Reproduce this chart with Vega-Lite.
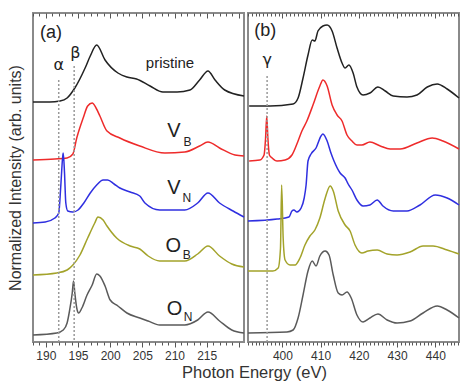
{
  "$schema": "https://vega.github.io/schema/vega-lite/v6.json",
  "padding": {"left": 6, "top": 11, "right": 5, "bottom": 3},
  "spacing": -4,
  "background": "white",
  "config": {
    "view": {"stroke": "#8a8a8a", "strokeWidth": 2},
    "font": "Liberation Sans",
    "axis": {"labelFont": "Liberation Sans", "titleFont": "Liberation Sans"}
  },
  "title": {"text": "Photon Energy (eV)", "orient": "bottom", "anchor": "middle", "fontSize": 16.5, "fontWeight": "normal", "font": "Liberation Sans", "color": "#333", "offset": 3, "dx": 20},
  "datasets": {
    "spectra": [
      {"panel":"a","series":"pristine","e":188.0,"i":240},{"panel":"a","series":"pristine","e":190.6,"i":240},{"panel":"a","series":"pristine","e":192.2,"i":241},{"panel":"a","series":"pristine","e":193.3,"i":244},{"panel":"a","series":"pristine","e":194.5,"i":254},{"panel":"a","series":"pristine","e":196.1,"i":274},{"panel":"a","series":"pristine","e":196.9,"i":286},{"panel":"a","series":"pristine","e":197.9,"i":297},{"panel":"a","series":"pristine","e":199.2,"i":282},{"panel":"a","series":"pristine","e":201.2,"i":269},{"panel":"a","series":"pristine","e":202.6,"i":265},{"panel":"a","series":"pristine","e":204.1,"i":263},{"panel":"a","series":"pristine","e":206.2,"i":256},{"panel":"a","series":"pristine","e":208.2,"i":250},{"panel":"a","series":"pristine","e":210.4,"i":250},{"panel":"a","series":"pristine","e":212.4,"i":252},{"panel":"a","series":"pristine","e":213.9,"i":262},{"panel":"a","series":"pristine","e":215.2,"i":271},{"panel":"a","series":"pristine","e":216.3,"i":262},{"panel":"a","series":"pristine","e":217.8,"i":252},{"panel":"a","series":"pristine","e":220.8,"i":246},
      {"panel":"a","series":"VB","e":188.0,"i":182},{"panel":"a","series":"VB","e":191.4,"i":183},{"panel":"a","series":"VB","e":193.3,"i":184},{"panel":"a","series":"VB","e":194.2,"i":188},{"panel":"a","series":"VB","e":194.8,"i":204},{"panel":"a","series":"VB","e":195.8,"i":224},{"panel":"a","series":"VB","e":196.5,"i":236},{"panel":"a","series":"VB","e":197.2,"i":239},{"panel":"a","series":"VB","e":197.8,"i":234},{"panel":"a","series":"VB","e":198.4,"i":226},{"panel":"a","series":"VB","e":199.5,"i":211},{"panel":"a","series":"VB","e":201.5,"i":204},{"panel":"a","series":"VB","e":204.6,"i":196},{"panel":"a","series":"VB","e":208.5,"i":189},{"panel":"a","series":"VB","e":211.6,"i":190},{"panel":"a","series":"VB","e":213.9,"i":196},{"panel":"a","series":"VB","e":215.2,"i":200},{"panel":"a","series":"VB","e":217.0,"i":194},{"panel":"a","series":"VB","e":219.4,"i":187},{"panel":"a","series":"VB","e":220.8,"i":186},
      {"panel":"a","series":"VN","e":188.0,"i":119},{"panel":"a","series":"VN","e":189.9,"i":120},{"panel":"a","series":"VN","e":191.4,"i":124},{"panel":"a","series":"VN","e":192.0,"i":129},{"panel":"a","series":"VN","e":192.3,"i":154},{"panel":"a","series":"VN","e":192.6,"i":184},{"panel":"a","series":"VN","e":192.7,"i":189},{"panel":"a","series":"VN","e":192.9,"i":169},{"panel":"a","series":"VN","e":193.1,"i":139},{"panel":"a","series":"VN","e":193.4,"i":131},{"panel":"a","series":"VN","e":194.2,"i":130},{"panel":"a","series":"VN","e":195.0,"i":132},{"panel":"a","series":"VN","e":195.9,"i":139},{"panel":"a","series":"VN","e":196.9,"i":149},{"panel":"a","series":"VN","e":197.9,"i":157},{"panel":"a","series":"VN","e":198.9,"i":162},{"panel":"a","series":"VN","e":199.6,"i":162},{"panel":"a","series":"VN","e":200.6,"i":158},{"panel":"a","series":"VN","e":201.5,"i":154},{"panel":"a","series":"VN","e":203.1,"i":150},{"panel":"a","series":"VN","e":204.6,"i":146},{"panel":"a","series":"VN","e":205.4,"i":139},{"panel":"a","series":"VN","e":207.7,"i":132},{"panel":"a","series":"VN","e":211.6,"i":132},{"panel":"a","series":"VN","e":213.6,"i":139},{"panel":"a","series":"VN","e":215.2,"i":149},{"panel":"a","series":"VN","e":217.0,"i":139},{"panel":"a","series":"VN","e":219.1,"i":131},{"panel":"a","series":"VN","e":220.8,"i":125},
      {"panel":"a","series":"OB","e":188.0,"i":67},{"panel":"a","series":"OB","e":191.7,"i":69},{"panel":"a","series":"OB","e":193.3,"i":72},{"panel":"a","series":"OB","e":194.2,"i":77},{"panel":"a","series":"OB","e":195.3,"i":87},{"panel":"a","series":"OB","e":196.5,"i":104},{"panel":"a","series":"OB","e":197.6,"i":119},{"panel":"a","series":"OB","e":198.1,"i":125},{"panel":"a","series":"OB","e":198.9,"i":122},{"panel":"a","series":"OB","e":199.5,"i":116},{"panel":"a","series":"OB","e":201.0,"i":104},{"panel":"a","series":"OB","e":203.1,"i":96},{"panel":"a","series":"OB","e":204.6,"i":93},{"panel":"a","series":"OB","e":205.9,"i":86},{"panel":"a","series":"OB","e":207.7,"i":81},{"panel":"a","series":"OB","e":211.6,"i":81},{"panel":"a","series":"OB","e":213.6,"i":88},{"panel":"a","series":"OB","e":215.2,"i":96},{"panel":"a","series":"OB","e":217.0,"i":86},{"panel":"a","series":"OB","e":218.9,"i":78},{"panel":"a","series":"OB","e":220.8,"i":75},
      {"panel":"a","series":"ON","e":188.0,"i":7},{"panel":"a","series":"ON","e":191.7,"i":9},{"panel":"a","series":"ON","e":192.7,"i":12},{"panel":"a","series":"ON","e":193.3,"i":19},{"panel":"a","series":"ON","e":193.7,"i":32},{"panel":"a","series":"ON","e":194.1,"i":49},{"panel":"a","series":"ON","e":194.3,"i":61},{"panel":"a","series":"ON","e":194.5,"i":49},{"panel":"a","series":"ON","e":194.8,"i":34},{"panel":"a","series":"ON","e":195.1,"i":29},{"panel":"a","series":"ON","e":195.6,"i":34},{"panel":"a","series":"ON","e":196.4,"i":47},{"panel":"a","series":"ON","e":197.2,"i":57},{"panel":"a","series":"ON","e":197.9,"i":68},{"panel":"a","series":"ON","e":198.4,"i":66},{"panel":"a","series":"ON","e":199.2,"i":56},{"panel":"a","series":"ON","e":200.0,"i":42},{"panel":"a","series":"ON","e":201.2,"i":36},{"panel":"a","series":"ON","e":202.6,"i":29},{"panel":"a","series":"ON","e":204.6,"i":24},{"panel":"a","series":"ON","e":205.9,"i":21},{"panel":"a","series":"ON","e":207.7,"i":17},{"panel":"a","series":"ON","e":211.6,"i":17},{"panel":"a","series":"ON","e":213.6,"i":22},{"panel":"a","series":"ON","e":215.2,"i":30},{"panel":"a","series":"ON","e":217.0,"i":21},{"panel":"a","series":"ON","e":218.9,"i":12},{"panel":"a","series":"ON","e":220.8,"i":9},
      {"panel":"b","series":"pristine","e":391.3,"i":236},{"panel":"b","series":"pristine","e":396.8,"i":236},{"panel":"b","series":"pristine","e":402.8,"i":238},{"panel":"b","series":"pristine","e":404.1,"i":244},{"panel":"b","series":"pristine","e":405.4,"i":264},{"panel":"b","series":"pristine","e":406.7,"i":287},{"panel":"b","series":"pristine","e":407.8,"i":302},{"panel":"b","series":"pristine","e":408.5,"i":301},{"panel":"b","series":"pristine","e":409.3,"i":311},{"panel":"b","series":"pristine","e":410.6,"i":316},{"panel":"b","series":"pristine","e":411.7,"i":317},{"panel":"b","series":"pristine","e":413.0,"i":311},{"panel":"b","series":"pristine","e":414.3,"i":294},{"panel":"b","series":"pristine","e":415.6,"i":279},{"panel":"b","series":"pristine","e":416.4,"i":274},{"panel":"b","series":"pristine","e":417.4,"i":277},{"panel":"b","series":"pristine","e":418.5,"i":269},{"panel":"b","series":"pristine","e":419.5,"i":255},{"panel":"b","series":"pristine","e":421.1,"i":247},{"panel":"b","series":"pristine","e":422.9,"i":249},{"panel":"b","series":"pristine","e":425.0,"i":255},{"panel":"b","series":"pristine","e":426.9,"i":251},{"panel":"b","series":"pristine","e":429.0,"i":246},{"panel":"b","series":"pristine","e":432.6,"i":245},{"panel":"b","series":"pristine","e":435.2,"i":247},{"panel":"b","series":"pristine","e":437.9,"i":255},{"panel":"b","series":"pristine","e":440.5,"i":258},{"panel":"b","series":"pristine","e":443.1,"i":253},{"panel":"b","series":"pristine","e":446.2,"i":244},
      {"panel":"b","series":"VB","e":391.3,"i":181},{"panel":"b","series":"VB","e":394.1,"i":182},{"panel":"b","series":"VB","e":395.2,"i":187},{"panel":"b","series":"VB","e":395.6,"i":204},{"panel":"b","series":"VB","e":395.9,"i":226},{"panel":"b","series":"VB","e":396.2,"i":204},{"panel":"b","series":"VB","e":396.6,"i":187},{"panel":"b","series":"VB","e":397.3,"i":184},{"panel":"b","series":"VB","e":398.6,"i":181},{"panel":"b","series":"VB","e":400.7,"i":182},{"panel":"b","series":"VB","e":402.5,"i":187},{"panel":"b","series":"VB","e":404.1,"i":201},{"panel":"b","series":"VB","e":405.1,"i":211},{"panel":"b","series":"VB","e":406.4,"i":221},{"panel":"b","series":"VB","e":408.0,"i":237},{"panel":"b","series":"VB","e":409.8,"i":256},{"panel":"b","series":"VB","e":410.6,"i":262},{"panel":"b","series":"VB","e":411.7,"i":256},{"panel":"b","series":"VB","e":413.0,"i":237},{"panel":"b","series":"VB","e":414.3,"i":227},{"panel":"b","series":"VB","e":415.6,"i":221},{"panel":"b","series":"VB","e":416.9,"i":207},{"panel":"b","series":"VB","e":418.2,"i":201},{"panel":"b","series":"VB","e":419.5,"i":197},{"panel":"b","series":"VB","e":420.8,"i":197},{"panel":"b","series":"VB","e":422.9,"i":200},{"panel":"b","series":"VB","e":425.6,"i":196},{"panel":"b","series":"VB","e":428.2,"i":193},{"panel":"b","series":"VB","e":430.8,"i":193},{"panel":"b","series":"VB","e":435.2,"i":199},{"panel":"b","series":"VB","e":439.2,"i":204},{"panel":"b","series":"VB","e":442.0,"i":201},{"panel":"b","series":"VB","e":446.2,"i":193},
      {"panel":"b","series":"VN","e":391.0,"i":121},{"panel":"b","series":"VN","e":398.6,"i":123},{"panel":"b","series":"VN","e":401.7,"i":125},{"panel":"b","series":"VN","e":402.5,"i":131},{"panel":"b","series":"VN","e":403.0,"i":132},{"panel":"b","series":"VN","e":403.8,"i":130},{"panel":"b","series":"VN","e":404.9,"i":134},{"panel":"b","series":"VN","e":405.7,"i":144},{"panel":"b","series":"VN","e":406.2,"i":157},{"panel":"b","series":"VN","e":406.7,"i":181},{"panel":"b","series":"VN","e":407.5,"i":188},{"panel":"b","series":"VN","e":408.8,"i":194},{"panel":"b","series":"VN","e":410.1,"i":206},{"panel":"b","series":"VN","e":410.6,"i":208},{"panel":"b","series":"VN","e":411.7,"i":201},{"panel":"b","series":"VN","e":412.7,"i":189},{"panel":"b","series":"VN","e":413.5,"i":181},{"panel":"b","series":"VN","e":415.1,"i":169},{"panel":"b","series":"VN","e":416.4,"i":164},{"panel":"b","series":"VN","e":417.2,"i":158},{"panel":"b","series":"VN","e":418.2,"i":152},{"panel":"b","series":"VN","e":419.5,"i":142},{"panel":"b","series":"VN","e":421.1,"i":136},{"panel":"b","series":"VN","e":422.9,"i":137},{"panel":"b","series":"VN","e":424.8,"i":142},{"panel":"b","series":"VN","e":426.3,"i":136},{"panel":"b","series":"VN","e":429.0,"i":131},{"panel":"b","series":"VN","e":432.6,"i":131},{"panel":"b","series":"VN","e":436.0,"i":137},{"panel":"b","series":"VN","e":440.0,"i":147},{"panel":"b","series":"VN","e":443.1,"i":144},{"panel":"b","series":"VN","e":446.2,"i":137},
      {"panel":"b","series":"OB","e":391.0,"i":71},{"panel":"b","series":"OB","e":397.5,"i":71},{"panel":"b","series":"OB","e":398.9,"i":74},{"panel":"b","series":"OB","e":399.5,"i":94},{"panel":"b","series":"OB","e":399.8,"i":157},{"panel":"b","series":"OB","e":400.2,"i":104},{"panel":"b","series":"OB","e":400.7,"i":82},{"panel":"b","series":"OB","e":402.0,"i":77},{"panel":"b","series":"OB","e":403.3,"i":77},{"panel":"b","series":"OB","e":404.6,"i":84},{"panel":"b","series":"OB","e":405.9,"i":97},{"panel":"b","series":"OB","e":407.2,"i":106},{"panel":"b","series":"OB","e":408.5,"i":112},{"panel":"b","series":"OB","e":409.8,"i":124},{"panel":"b","series":"OB","e":411.2,"i":144},{"panel":"b","series":"OB","e":412.5,"i":156},{"panel":"b","series":"OB","e":413.3,"i":151},{"panel":"b","series":"OB","e":414.6,"i":131},{"panel":"b","series":"OB","e":416.4,"i":117},{"panel":"b","series":"OB","e":417.7,"i":111},{"panel":"b","series":"OB","e":419.0,"i":97},{"panel":"b","series":"OB","e":420.8,"i":89},{"panel":"b","series":"OB","e":422.4,"i":91},{"panel":"b","series":"OB","e":424.8,"i":92},{"panel":"b","series":"OB","e":427.4,"i":88},{"panel":"b","series":"OB","e":430.0,"i":87},{"panel":"b","series":"OB","e":433.4,"i":90},{"panel":"b","series":"OB","e":436.8,"i":96},{"panel":"b","series":"OB","e":439.4,"i":96},{"panel":"b","series":"OB","e":443.1,"i":92},{"panel":"b","series":"OB","e":446.2,"i":88},
      {"panel":"b","series":"ON","e":391.0,"i":9},{"panel":"b","series":"ON","e":401.2,"i":10},{"panel":"b","series":"ON","e":402.8,"i":12},{"panel":"b","series":"ON","e":404.1,"i":24},{"panel":"b","series":"ON","e":405.4,"i":47},{"panel":"b","series":"ON","e":406.7,"i":71},{"panel":"b","series":"ON","e":407.8,"i":81},{"panel":"b","series":"ON","e":408.8,"i":76},{"panel":"b","series":"ON","e":409.8,"i":86},{"panel":"b","series":"ON","e":411.2,"i":91},{"panel":"b","series":"ON","e":412.2,"i":87},{"panel":"b","series":"ON","e":413.3,"i":67},{"panel":"b","series":"ON","e":414.6,"i":49},{"panel":"b","series":"ON","e":415.6,"i":47},{"panel":"b","series":"ON","e":416.9,"i":50},{"panel":"b","series":"ON","e":418.0,"i":44},{"panel":"b","series":"ON","e":419.5,"i":27},{"panel":"b","series":"ON","e":421.1,"i":20},{"panel":"b","series":"ON","e":422.9,"i":24},{"panel":"b","series":"ON","e":425.0,"i":28},{"panel":"b","series":"ON","e":427.4,"i":22},{"panel":"b","series":"ON","e":430.0,"i":19},{"panel":"b","series":"ON","e":433.4,"i":21},{"panel":"b","series":"ON","e":436.8,"i":29},{"panel":"b","series":"ON","e":440.5,"i":36},{"panel":"b","series":"ON","e":443.1,"i":32},{"panel":"b","series":"ON","e":446.2,"i":24}
    ],
    "guides": [
      {"panel":"a","e":192.0,"i":262},{"panel":"a","e":194.4,"i":276},{"panel":"b","e":396.0,"i":266}
    ],
    "labels": [
      {"panel":"a","kind":"panel","e":190.8,"i":309,"t":"(a)"},
      {"panel":"b","kind":"panel","e":395.5,"i":311,"t":"(b)"},
      {"panel":"a","kind":"greek","e":192.0,"i":277,"t":"α"},
      {"panel":"a","kind":"greek","e":194.6,"i":289,"t":"β"},
      {"panel":"b","kind":"greek","e":396.0,"i":282,"t":"γ"},
      {"panel":"a","kind":"name","e":209.3,"i":279,"t":"pristine"},
      {"panel":"a","kind":"main","e":209.9,"i":211,"t":"V"},
      {"panel":"a","kind":"sub","e":212.0,"i":200,"t":"B"},
      {"panel":"a","kind":"main","e":209.9,"i":154,"t":"V"},
      {"panel":"a","kind":"sub","e":211.9,"i":144,"t":"N"},
      {"panel":"a","kind":"main","e":209.8,"i":96,"t":"O"},
      {"panel":"a","kind":"sub","e":211.9,"i":87,"t":"B"},
      {"panel":"a","kind":"main","e":210.0,"i":33,"t":"O"},
      {"panel":"a","kind":"sub","e":212.1,"i":25,"t":"N"}
    ]
  },
  "hconcat": [
    {
      "width": 211,
      "height": 329,
      "resolve": {"axis": {"x": "independent"}},
      "encoding": {
        "y": {"field": "i", "type": "quantitative", "scale": {"domain": [0, 329], "nice": false, "zero": false},
              "axis": {"title": "Normalized Intensity (arb. units)", "labels": false, "ticks": false, "domain": false, "grid": false, "titleFontSize": 16, "titleFontWeight": "normal", "titleColor": "#333", "titlePadding": 10}}
      },
      "layer": [
        {
          "data": {"name": "spectra"},
          "transform": [{"filter": "datum.panel === 'a'"}],
          "mark": {"type": "line", "strokeWidth": 1.5, "interpolate": "monotone"},
          "encoding": {
            "x": {"field": "e", "type": "quantitative", "scale": {"domain": [188, 220.8], "nice": false, "zero": false},
                  "axis": {"orient": "bottom", "title": null, "grid": false, "domain": false,
                           "values": [188,189,190,191,192,193,194,195,196,197,198,199,200,201,202,203,204,205,206,207,208,209,210,211,212,213,214,215,216,217,218,219,220],
                           "labelExpr": "(datum.value % 5 === 0 && datum.value < 220) ? datum.label : ''",
                           "tickSize": {"condition": {"test": "datum.value % 5 === 0", "value": 5}, "value": 3},
                           "tickColor": "#555", "labelColor": "#333", "labelFontSize": 12, "labelPadding": 3, "labelOverlap": false, "labelFlush": false}},
            "color": {"field": "series", "type": "nominal", "legend": null,
                      "scale": {"domain": ["pristine", "VB", "VN", "OB", "ON"], "range": ["#222222", "#ee2b2b", "#2f2fe0", "#a3a32a", "#5a5a5a"]}},
            "order": {"field": "e", "type": "quantitative"}
          }
        },
        {
          "data": {"name": "guides"},
          "transform": [{"filter": "datum.panel === 'a'"}],
          "mark": {"type": "rule", "strokeDash": [2, 2], "color": "#999", "strokeWidth": 1.5},
          "encoding": {
            "x": {"field": "e", "type": "quantitative", "scale": {"domain": [188, 220.8], "nice": false, "zero": false},
                  "axis": {"orient": "top", "title": null, "grid": false, "domain": false, "labels": false,
                           "values": [188,189,190,191,192,193,194,195,196,197,198,199,200,201,202,203,204,205,206,207,208,209,210,211,212,213,214,215,216,217,218,219,220],
                           "tickSize": {"condition": {"test": "datum.value % 5 === 0", "value": -5}, "value": -3},
                           "tickColor": "#555"}},
            "y2": {"datum": 0}
          }
        },
        {
          "data": {"name": "labels"},
          "transform": [{"filter": "datum.panel === 'a' && datum.kind === 'panel'"}],
          "mark": {"type": "text", "fontSize": 18, "color": "#222", "font": "Liberation Sans"},
          "encoding": {"x": {"field": "e", "type": "quantitative", "axis": null}, "text": {"field": "t"}}
        },
        {
          "data": {"name": "labels"},
          "transform": [{"filter": "datum.panel === 'a' && datum.kind === 'greek'"}],
          "mark": {"type": "text", "fontSize": 16, "color": "#222", "font": "DejaVu Sans"},
          "encoding": {"x": {"field": "e", "type": "quantitative", "axis": null}, "text": {"field": "t"}}
        },
        {
          "data": {"name": "labels"},
          "transform": [{"filter": "datum.panel === 'a' && datum.kind === 'name'"}],
          "mark": {"type": "text", "fontSize": 15, "color": "#222", "font": "Liberation Sans"},
          "encoding": {"x": {"field": "e", "type": "quantitative", "axis": null}, "text": {"field": "t"}}
        },
        {
          "data": {"name": "labels"},
          "transform": [{"filter": "datum.panel === 'a' && datum.kind === 'main'"}],
          "mark": {"type": "text", "fontSize": 20, "color": "#222", "font": "Liberation Sans"},
          "encoding": {"x": {"field": "e", "type": "quantitative", "axis": null}, "text": {"field": "t"}}
        },
        {
          "data": {"name": "labels"},
          "transform": [{"filter": "datum.panel === 'a' && datum.kind === 'sub'"}],
          "mark": {"type": "text", "fontSize": 12, "color": "#222", "font": "Liberation Sans"},
          "encoding": {"x": {"field": "e", "type": "quantitative", "axis": null}, "text": {"field": "t"}}
        }
      ]
    },
    {
      "width": 211,
      "height": 329,
      "resolve": {"axis": {"x": "independent"}},
      "encoding": {
        "y": {"field": "i", "type": "quantitative", "scale": {"domain": [0, 329], "nice": false, "zero": false}, "axis": null}
      },
      "layer": [
        {
          "data": {"name": "spectra"},
          "transform": [{"filter": "datum.panel === 'b'"}],
          "mark": {"type": "line", "strokeWidth": 1.5, "interpolate": "monotone"},
          "encoding": {
            "x": {"field": "e", "type": "quantitative", "scale": {"domain": [391, 446.2], "nice": false, "zero": false},
                  "axis": {"orient": "bottom", "title": null, "grid": false, "domain": false,
                           "values": [391,392,393,394,395,396,397,398,399,400,401,402,403,404,405,406,407,408,409,410,411,412,413,414,415,416,417,418,419,420,421,422,423,424,425,426,427,428,429,430,431,432,433,434,435,436,437,438,439,440,441,442,443,444,445,446],
                           "labelExpr": "datum.value % 10 === 0 ? datum.label : ''",
                           "tickSize": {"condition": {"test": "datum.value % 10 === 0", "value": 5}, "value": 3},
                           "tickColor": "#555", "labelColor": "#333", "labelFontSize": 12, "labelPadding": 3, "labelOverlap": false, "labelFlush": false}},
            "color": {"field": "series", "type": "nominal", "legend": null,
                      "scale": {"domain": ["pristine", "VB", "VN", "OB", "ON"], "range": ["#222222", "#ee2b2b", "#2f2fe0", "#a3a32a", "#5a5a5a"]}},
            "order": {"field": "e", "type": "quantitative"}
          }
        },
        {
          "data": {"name": "guides"},
          "transform": [{"filter": "datum.panel === 'b'"}],
          "mark": {"type": "rule", "strokeDash": [2, 2], "color": "#999", "strokeWidth": 1.5},
          "encoding": {
            "x": {"field": "e", "type": "quantitative", "scale": {"domain": [391, 446.2], "nice": false, "zero": false},
                  "axis": {"orient": "top", "title": null, "grid": false, "domain": false, "labels": false,
                           "values": [391,392,393,394,395,396,397,398,399,400,401,402,403,404,405,406,407,408,409,410,411,412,413,414,415,416,417,418,419,420,421,422,423,424,425,426,427,428,429,430,431,432,433,434,435,436,437,438,439,440,441,442,443,444,445,446],
                           "tickSize": {"condition": {"test": "datum.value % 10 === 0", "value": -5}, "value": -3},
                           "tickColor": "#555"}},
            "y2": {"datum": 0}
          }
        },
        {
          "data": {"name": "labels"},
          "transform": [{"filter": "datum.panel === 'b' && datum.kind === 'panel'"}],
          "mark": {"type": "text", "fontSize": 18, "color": "#222", "font": "Liberation Sans"},
          "encoding": {"x": {"field": "e", "type": "quantitative", "axis": null}, "text": {"field": "t"}}
        },
        {
          "data": {"name": "labels"},
          "transform": [{"filter": "datum.panel === 'b' && datum.kind === 'greek'"}],
          "mark": {"type": "text", "fontSize": 16, "color": "#222", "font": "DejaVu Sans"},
          "encoding": {"x": {"field": "e", "type": "quantitative", "axis": null}, "text": {"field": "t"}}
        }
      ]
    }
  ]
}
